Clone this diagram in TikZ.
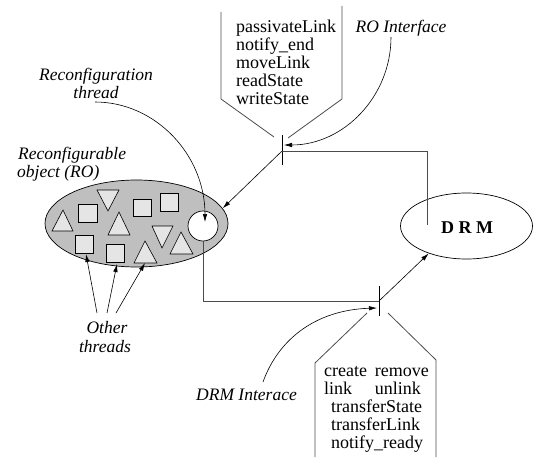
\documentclass[tikz,border=0pt]{standalone}
\usepackage{fontspec}
\setmainfont{Liberation Serif}
\usetikzlibrary{shapes.geometric,arrows.meta}
\begin{document}
\begin{tikzpicture}[x=1pt,y=-1pt,
  txt/.style={font=\fontsize{18}{18}\selectfont, inner sep=0pt},
  lbl/.style={font=\fontsize{17.5}{17.5}\selectfont\itshape, inner sep=0pt},
  frame/.style={draw=black!70, line width=0.8pt},
  wire/.style={draw=black!70, line width=0.8pt},
  arr/.style={draw=black, line width=0.6pt, -{Latex[length=8pt,width=4.5pt]}},
  item/.style={draw=black, line width=0.6pt, fill=black!10},
  tickline/.style={draw=black, line width=0.8pt}]
\useasboundingbox (0,0) rectangle (534,457);

% Reconfigurable object
\node[ellipse, draw, line width=0.7pt, fill=black!25, minimum width=183pt, minimum height=87pt, inner sep=0pt] (ro) at (136.5,223.5) {};
\draw[item] (52,231) -- (73,231) -- (63,210) -- cycle;
\draw[item] (78,204) rectangle (97,222);
\draw[item] (97,190) -- (119,190) -- (108,211) -- cycle;
\draw[item] (108,235) -- (130,235) -- (119,212) -- cycle;
\draw[item] (133,199) rectangle (151,216);
\draw[item] (160,193) rectangle (178,211);
\draw[item] (75,235) rectangle (93,253);
\draw[item] (106,244) rectangle (124,262);
\draw[item] (152,226) -- (173,226) -- (162,248) -- cycle;
\draw[item] (134,263) -- (157,263) -- (145,241) -- cycle;
\draw[item] (170,254) -- (193,254) -- (181,232) -- cycle;
\node[circle, draw, line width=0.7pt, fill=white, minimum size=30pt, inner sep=0pt] (rt) at (203,226) {};

% DRM
\node[ellipse, draw, line width=0.7pt, minimum width=132pt, minimum height=66pt, inner sep=0pt] (drm) at (466.5,226) {};
\node[font=\fontsize{18}{18}\selectfont\bfseries, inner sep=0pt, anchor=base] (drmt) at (467,233) {D R M};

% interface ticks
\coordinate (ta) at (282,151);
\coordinate (ta1) at (282,135);
\coordinate (ta2) at (282,165);
\coordinate (taR) at (284,145);
\coordinate (tb) at (379,301);
\coordinate (tb1) at (379,286);
\coordinate (tb2) at (379,316);
\coordinate (tbL) at (377,308);
\draw[tickline] (ta1) -- (ta2);
\draw[tickline] (tb1) -- (tb2);

% wires
\coordinate (rk) at (427,151);
\coordinate (rd) at (427,225);
\draw[wire] (ta) -- (rk) -- (rd);
\draw[wire] (rt.south) |- (tb);
\draw[arr] (ta) -- (ro.10);
\draw[arr] (tb) -- (drm.216);

% method frames
\draw[frame] (221,12) -- (221,99) -- (274,137);
\draw[frame] (342,6) -- (342,99) -- (288,138);
\draw[frame] (367,313) -- (315,363) -- (315,457);
\draw[frame] (388,313) -- (436,360) -- (436,457);

% top list
\node[txt, anchor=base west] (m1) at (236,33) {passivateLink};
\node[txt, anchor=base west] (m2) at (236,51) {notify\_end};
\node[txt, anchor=base west] (m3) at (236,69) {moveLink};
\node[txt, anchor=base west] (m4) at (236,87) {readState};
\node[txt, anchor=base west] (m5) at (236,105) {writeState};

% bottom list
\node[txt, anchor=base west] (d1a) at (324,376.5) {create};
\node[txt, anchor=base east] (d1b) at (429,376.5) {remove};
\node[txt, anchor=base west] (d2a) at (324,394.5) {link};
\node[txt, anchor=base east] (d2b) at (421,394.5) {unlink};
\node[txt, anchor=base west] (d3) at (331,412.5) {transferState};
\node[txt, anchor=base west] (d4) at (331,430.5) {transferLink};
\node[txt, anchor=base west] (d5) at (331,448.5) {notify\_ready};

% labels
\node[lbl, anchor=base] (roi) at (401,33) {RO Interface};
\node[lbl, anchor=base] (rth1) at (96,81) {Reconfiguration};
\node[lbl, anchor=base] (rth2) at (96,99) {thread};
\node[lbl, anchor=base west] (rob1) at (18,159) {Reconfigurable};
\node[lbl, anchor=base west] (rob2) at (17,177) {object (RO)};
\node[lbl, anchor=base] (oth1) at (107,333) {Other};
\node[lbl, anchor=base] (oth2) at (105,352) {threads};
\node[lbl, anchor=base] (drmi) at (246.5,400) {DRM Interace};

% label arrows
\coordinate (roiS) at (391,37);
\draw[arr] (roiS) .. controls (391,96.6) and (343.5,145) .. (taR);
\coordinate (rthS) at (95,102);
\coordinate (rtE) at (205,222);
\draw[arr] (rthS) .. controls (155.7,102) and (205,155) .. (rtE);
\coordinate (drmiS) at (263,382);
\draw[arr] (drmiS) .. controls (278,340) and (315,310) .. (tbL);

\coordinate (o1) at (97,313);
\coordinate (o2) at (107,313);
\coordinate (o3) at (116,313);
\coordinate (s1) at (86,254);
\coordinate (s2) at (117,264);
\coordinate (s3) at (145,263);
\draw[arr] (o1) -- (s1);
\draw[arr] (o2) -- (s2);
\draw[arr] (o3) -- (s3);
\end{tikzpicture}
\end{document}
